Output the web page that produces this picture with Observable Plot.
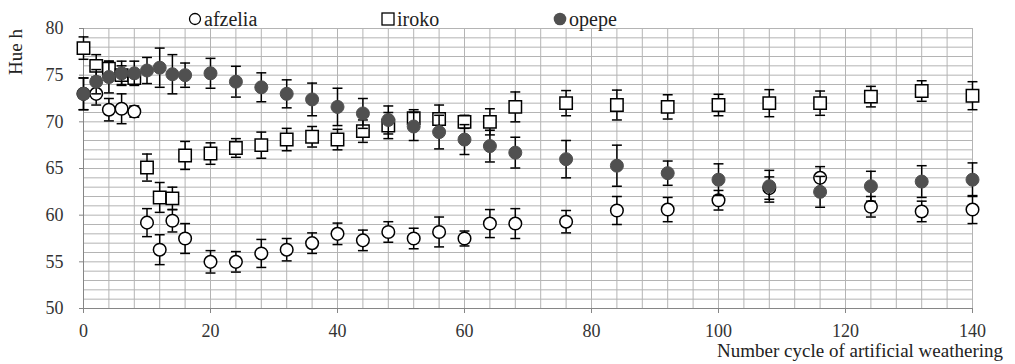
<!DOCTYPE html>
<html><head><meta charset="utf-8">
<script src="https://cdn.jsdelivr.net/npm/d3@7"></script>
<script src="https://cdn.jsdelivr.net/npm/@observablehq/plot@0.6"></script>
<style>
body{margin:0;background:#fff;}
#wrap{position:relative;width:1015px;height:364px;font-family:'Liberation Serif','Times New Roman',Times,'DejaVu Serif',serif;color:#222;}
.lbl{position:absolute;white-space:nowrap;line-height:1;}
.leg{position:absolute;white-space:nowrap;line-height:1;font-size:20px;display:flex;align-items:center;}
.leg svg{margin-right:2px;}
</style></head><body>
<div id="wrap"></div>
<script>
// ---- data ----
const cycles = [0,2,4,6,8,10,12,14,16,20,24,28,32,36,40,44,48,52,56,60,64,68,76,84,92,100,108,116,124,132,140];
const afzelia    = [73.0,73.0,71.3,71.4,71.1,59.2,56.3,59.4,57.5,55.0,55.0,55.9,56.3,57.0,58.0,57.3,58.2,57.5,58.2,57.5,59.1,59.1,59.3,60.5,60.6,61.6,62.9,64.0,60.9,60.4,60.6];
const afzeliaErr = [1.7,1.2,1.2,1.6,0.6,1.5,1.6,1.2,1.6,1.2,1.1,1.5,1.2,1.1,1.15,1.1,1.1,1.1,1.6,0.8,1.5,1.6,1.2,1.5,1.3,1.05,1.2,1.2,1.1,1.1,1.5];
const iroko      = [77.9,76.0,75.7,75.0,74.7,65.1,61.9,61.8,66.4,66.6,67.2,67.5,68.1,68.4,68.1,69.0,69.6,70.4,70.3,70.0,70.0,71.6,72.0,71.8,71.6,71.8,72.0,72.0,72.7,73.3,72.8];
const irokoErr   = [1.2,1.2,0.8,1.0,0.6,1.45,1.6,1.2,1.5,1.15,1.0,1.4,1.2,1.1,1.1,1.2,1.4,0.9,1.5,0.7,1.4,1.6,1.35,1.6,1.3,1.15,1.45,1.3,1.1,1.1,1.5];
const opepe      = [73.0,74.3,74.8,75.2,75.2,75.5,75.8,75.1,75.0,75.2,74.3,73.7,73.0,72.4,71.6,70.9,70.2,69.5,68.9,68.1,67.4,66.7,66.0,65.3,64.5,63.8,63.1,62.5,63.1,63.6,63.8];
const opepeErr   = [1.7,1.3,1.7,1.3,1.3,1.4,2.1,2.1,1.3,1.6,1.65,1.55,1.5,1.75,2.0,1.6,1.5,1.5,1.8,1.6,1.7,1.65,2.0,2.2,1.3,1.7,1.7,1.65,1.6,1.7,1.8];
const seriesNames = ["afzelia","iroko","opepe"];
const xTicks = [0,20,40,60,80,100,120,140];
const yTicks = [50,55,60,65,70,75,80];
const xGridStep = 4;
const yGridStep = 1;
const xTitle = "Number cycle of artificial weathering";
const yTitle = "Hue h";

const FONT = "'Liberation Serif','Times New Roman',Times,'DejaVu Serif',serif";

// ---- build tables ----
function rows(vals, errs, name){
  return cycles.map((c,i)=>({cycle:c, value:vals[i], err:errs[i], series:name}));
}
const A = rows(afzelia, afzeliaErr, "afzelia");
const I = rows(iroko, irokoErr, "iroko");
const O = rows(opepe, opepeErr, "opepe");

const xGrid = d3.range(0, 140 + 0.001, xGridStep);
const yGrid = d3.range(50, 80 + 0.001, yGridStep);

const capSymbol = {draw(ctx, size){ const w = Math.sqrt(size); ctx.moveTo(-w/2,0); ctx.lineTo(w/2,0); }};

function errMarks(data){
  return [
    Plot.ruleX(data, {x:"cycle", y1:d=>d.value-d.err, y2:d=>d.value+d.err, stroke:"#000", strokeWidth:1.5}),
    Plot.dot(data, {x:"cycle", y:d=>d.value+d.err, symbol:capSymbol, r:5.6, stroke:"#000", strokeWidth:1.5, fill:"none"}),
    Plot.dot(data, {x:"cycle", y:d=>d.value-d.err, symbol:capSymbol, r:5.6, stroke:"#000", strokeWidth:1.5, fill:"none"})
  ];
}

const chart = Plot.plot({
  width:1015, height:364,
  marginLeft:83, marginRight:43, marginTop:28, marginBottom:56,
  style:{fontFamily:FONT, background:"#fff", color:"#333"},
  x:{domain:[0,140], axis:null},
  y:{domain:[50,80], axis:null},
  marks:[
    Plot.gridX(xGrid, {stroke:"#b4b4b4", strokeOpacity:1}),
    Plot.gridY(yGrid, {stroke:"#b4b4b4", strokeOpacity:1}),
    Plot.ruleX([0], {stroke:"#868686"}),
    Plot.ruleY([50], {stroke:"#868686"}),
    Plot.axisX(xTicks, {tickSize:5, tickPadding:11, fontSize:18, fontFamily:FONT, stroke:"#868686", fill:"#333", label:null}),
    Plot.axisY(yTicks, {tickSize:4, tickPadding:16, fontSize:18, fontFamily:FONT, stroke:"#868686", fill:"#333", label:null}),
    ...errMarks(A),
    Plot.dot(A, {x:"cycle", y:"value", symbol:"circle", r:6.3, fill:"#fff", stroke:"#000", strokeWidth:1.5}),
    ...errMarks(I),
    Plot.dot(I, {x:"cycle", y:"value", symbol:"square", r:7, fill:"#fff", stroke:"#000", strokeWidth:1.5}),
    ...errMarks(O),
    Plot.dot(O, {x:"cycle", y:"value", symbol:"circle", r:6.5, fill:"#505050", stroke:"#505050", strokeWidth:1})
  ]
});
const wrap = document.getElementById("wrap");
wrap.appendChild(chart);

// y title
const yt = document.createElement("div");
yt.className = "lbl"; yt.textContent = yTitle;
yt.style.fontSize = "19px"; yt.style.left = "15px"; yt.style.top = "52px";
yt.style.transform = "translate(-50%,-50%) rotate(-90deg)";
wrap.appendChild(yt);

// x title
const xt = document.createElement("div");
xt.className = "lbl"; xt.textContent = xTitle;
xt.style.fontSize = "19px"; xt.style.right = "12px"; xt.style.top = "341px";
wrap.appendChild(xt);

// legend
const legendSymbols = {
  afzelia: '<svg width="14" height="14"><circle cx="7" cy="7" r="5.5" fill="#fff" stroke="#000" stroke-width="1.3"/></svg>',
  iroko: '<svg width="14" height="14"><rect x="1" y="1" width="12" height="12" fill="#fff" stroke="#000" stroke-width="1.3"/></svg>',
  opepe: '<svg width="14" height="14"><circle cx="7" cy="7" r="6.3" fill="#505050"/></svg>'
};
const legendLeft = {afzelia:188, iroko:381, opepe:553};
seriesNames.forEach(n=>{
  const d = document.createElement("div");
  d.className = "leg";
  d.style.left = legendLeft[n] + "px"; d.style.top = "9px";
  d.innerHTML = legendSymbols[n] + "<span>" + n + "</span>";
  wrap.appendChild(d);
});
</script>
</body></html>
